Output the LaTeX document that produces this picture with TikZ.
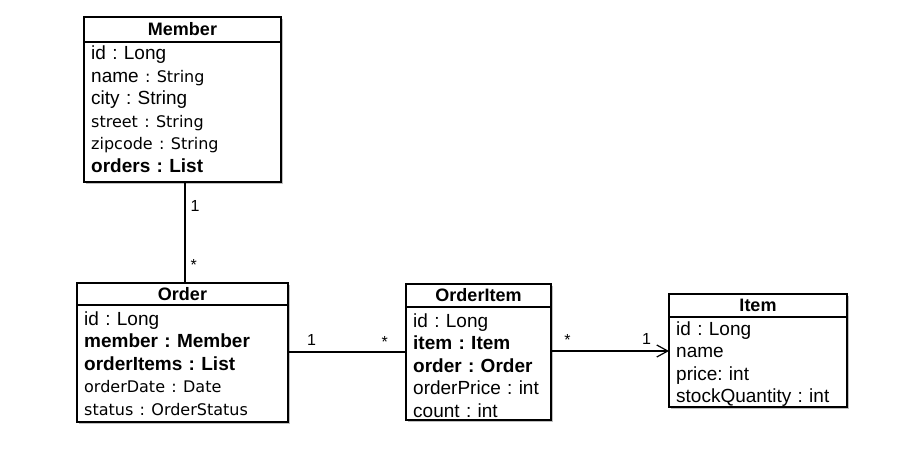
\documentclass[tikz,border=0pt]{standalone}
\usepackage{fontspec}
\setmainfont{Liberation Sans}
\newfontfamily\lucida{DejaVu Sans}
\newcommand{\lgr}[1]{{\lucida\fontsize{16}{22.5}\selectfont #1}}
\frenchspacing
\usetikzlibrary{calc, positioning, arrows.meta, shadows}

\begin{document}
\begin{tikzpicture}[x=1pt, y=-1pt,
	cls/.style={draw, line width=1.4pt, fill=white, inner sep=0pt, outer sep=0pt, anchor=north west, drop shadow={shadow xshift=2pt, shadow yshift=-2pt, fill=black, opacity=0.25}},
	hdr/.style={cls, font=\fontsize{18}{18}\selectfont\bfseries},
	attr/.style={anchor=base west, inner sep=0pt, text width=190pt, align=left, font=\fontsize{19}{22.5}\selectfont},
	link/.style={line width=1.2pt},
	mult/.style={inner sep=0pt, font=\fontsize{16}{16}\selectfont}]
	\useasboundingbox (0,0) rectangle (898,460);

	\node [hdr, minimum width=197pt, minimum height=25pt] (member) at (84,17) {Member};
	\node [cls, minimum width=197pt, minimum height=140pt] (member-body) at (member.south west) {};
	\node [attr] (member-txt) at ($(member-body.north west)+(7,18)$) {id : Long\\ name\lgr{ : String}\\ city : String\\ \lgr{street : String}\\ \lgr{zipcode : String}\\ \textbf{orders : List}};

	\node [hdr, minimum width=211pt, minimum height=22pt] (order) at (77,283) {Order};
	\node [cls, minimum width=211pt, minimum height=117pt] (order-body) at (order.south west) {};
	\node [attr] (order-txt) at ($(order-body.north west)+(7,20)$) {id : Long\\ \textbf{member : Member}\\ \textbf{orderItems : List}\\ \lgr{orderDate : Date}\\ \lgr{status : OrderStatus}};

	\node [hdr, minimum width=145pt, minimum height=23pt] (orderitem) at (406,284) {OrderItem};
	\node [cls, minimum width=145pt, minimum height=113pt] (orderitem-body) at (orderitem.south west) {};
	\node [attr] (orderitem-txt) at ($(orderitem-body.north west)+(7,20)$) {id : Long\\ \textbf{item : Item}\\ \textbf{order : Order}\\ orderPrice : int\\ count : int};

	\node [hdr, minimum width=178pt, minimum height=23pt] (item) at (669,294) {Item};
	\node [cls, minimum width=178pt, minimum height=90pt] (item-body) at (item.south west) {};
	\node [attr] (item-txt) at ($(item-body.north west)+(7,18)$) {id : Long\\ name\\ price: int\\ stockQuantity : int};

	\draw [link] (185,0 |- member-body.south) -- (185,0 |- order.north)
		node [mult, pos=0.24, right=5pt] {1}
		node [mult, pos=0.82, right=5pt] {*};
	\draw [link] (order-body.east |- 0,352) -- (orderitem-body.west |- 0,352)
		node [mult, pos=0.2, above=6pt] {1}
		node [mult, pos=0.82, above=3.5pt] {*};
	\draw [link, -{Straight Barb[length=11pt, width=12pt]}] (orderitem-body.east |- 0,351) -- (item-body.west |- 0,351)
		node [mult, pos=0.14, above=5pt] {*}
		node [mult, pos=0.81, above=6pt] {1};
\end{tikzpicture}
\end{document}
